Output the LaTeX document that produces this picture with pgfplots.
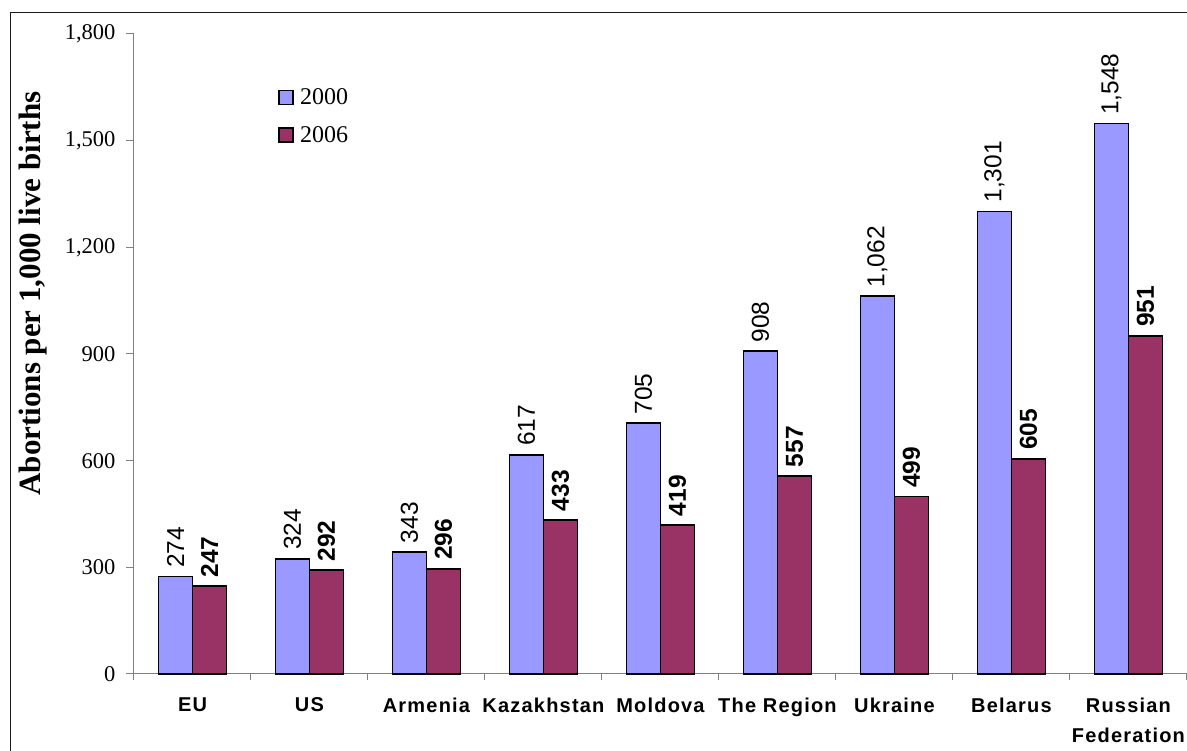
\documentclass[border=0pt]{standalone}
\usepackage{pgfplots}
\pgfplotsset{compat=1.18}
\usepackage{fontspec}
\setmainfont{Liberation Serif}
\newfontfamily\arial{Liberation Sans}
\newfontfamily\arialsp[LetterSpace=6]{Liberation Sans}
\definecolor{c2000}{HTML}{9999FF}
\definecolor{c2006}{HTML}{993366}
\definecolor{axgray}{HTML}{808080}
\begin{document}
\begin{tikzpicture}[x=1pt,y=1pt]
\begin{axis}[
  at={(134pt,77pt)}, anchor=south west,
  scale only axis, width=1053pt, height=640pt,
  xmin=-0.5, xmax=8.5, ymin=0, ymax=1800,
  axis lines*=left,
  axis line style={draw=axgray, line width=1pt},
  tick align=outside,
  ytick={0,300,...,1800},
  major tick length=8pt,
  minor tick length=6pt,
  y tick style={draw=axgray, line width=1pt},
  major x tick style={draw=none},
  minor x tick style={draw=axgray, line width=1pt},
  xtick={0,...,8},
  minor xtick={-0.5,0.5,...,8.5},
  xticklabels={EU,US,Armenia,Kazakhstan,Moldova,The Region,Ukraine,Belarus,Russian\\Federation},
  xticklabel style={align=center, font=\arialsp\bfseries\fontsize{20}{30}\selectfont, yshift=-12pt},
  /pgf/number format/assume math mode=true,
  /pgf/number format/1000 sep={,},
  yticklabel style={font=\fontsize{22.5}{25}\selectfont, xshift=-7pt},
  every axis y label/.style={at={(axis description cs:-0.0963,0.5945)}, rotate=90, anchor=center, font=\bfseries\fontsize{31}{34}\selectfont},
  ylabel={Abortions per 1,000 live births},
  ybar, bar width=34pt,
  legend style={at={(0.1368,0.918)}, anchor=north west, draw=none, fill=none, inner sep=0pt, row sep=16pt, font=\fontsize{24}{28}\selectfont},
  legend cell align=left,
  legend image code/.code={\draw[#1, line width=1.8pt] (0pt,-7pt) rectangle (14pt,7pt); \path[draw=none,fill=none] (0pt,0pt) -- (19pt,0pt);},
  clip=false,
]
\addplot[fill=c2000, draw=black, line width=1.8pt, bar shift=-17pt,
  nodes near coords={\pgfmathprintnumber[assume math mode=true,1000 sep={,}]{\pgfplotspointmeta}},
  every node near coord/.append style={rotate=90, anchor=west, inner sep=0pt, inner xsep=8pt, font=\arial\fontsize{24.5}{26}\selectfont, text=black}]
  coordinates {(0,274) (1,324) (2,343) (3,617) (4,705) (5,908) (6,1062) (7,1301) (8,1548)};
\addlegendentry{2000}
\addplot[fill=c2006, draw=black, line width=1.8pt, bar shift=17pt,
  nodes near coords={\pgfmathprintnumber[assume math mode=true,1000 sep={,}]{\pgfplotspointmeta}},
  every node near coord/.append style={rotate=90, anchor=west, inner sep=0pt, inner xsep=8pt, font=\arial\bfseries\fontsize{24.5}{26}\selectfont, text=black}]
  coordinates {(0,247) (1,292) (2,296) (3,433) (4,419) (5,557) (6,499) (7,605) (8,951)};
\addlegendentry{2006}
\end{axis}
\draw[line width=1.8pt, black!90] (10.5,-20) -- (10.5,738.5) -- (1210,738.5);
\pgfresetboundingbox
\useasboundingbox (0,0) rectangle (1187,751);
\end{tikzpicture}
\end{document}
